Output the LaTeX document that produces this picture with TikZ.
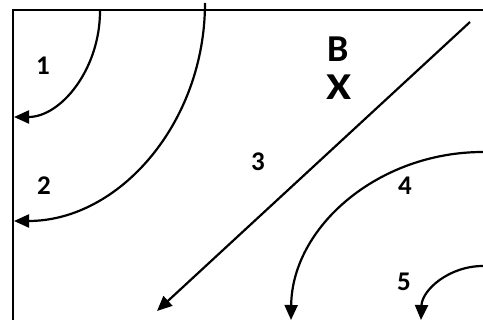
\documentclass[tikz,border=0pt]{standalone}
\usepackage{fontspec}
\setmainfont{Carlito}
\usetikzlibrary{arrows.meta, positioning}

\begin{document}
\begin{tikzpicture}[
    x=1pt, y=-1pt,
    frame/.style={draw=black, line width=1.6pt},
    route/.style={-{Triangle[length=15pt, width=13pt]}, line width=2.2pt},
    num/.style={font=\fontsize{27}{27}\selectfont\bfseries, inner sep=0pt},
    spot/.style={font=\fontsize{38}{38}\selectfont\bfseries, inner sep=0pt}
]
\useasboundingbox (0,0) rectangle (483,320);

% 1. Frame (top and left edges)
\coordinate (corner) at (13,10);
\coordinate (topend) at (483,10);
\coordinate (leftend) at (13,320);
\draw[frame] (topend) -- (corner) -- (leftend);

% 2. Labels
\node[num] (l1) at (43,66) {1};
\node[num] (l2) at (44,186) {2};
\node[num] (l3) at (258,162) {3};
\node[num] (l4) at (405,186) {4};
\node[num] (l5) at (404,282) {5};
\node[spot] (b) at (338,49) {B};
\node[spot, xscale=1.2] (x) at (339,87) {X};

% 3. Paths
\coordinate (s1) at (100,11);  \coordinate (e1) at (14,117);
\coordinate (s2) at (205,3);   \coordinate (e2) at (14,221);
\coordinate (s3) at (470,22);  \coordinate (e3) at (157,311);
\coordinate (s4) at (483,152); \coordinate (e4) at (291,320);
\coordinate (s5) at (483,266); \coordinate (e5) at (421,320);

\draw[route] (s1) .. controls (100,69) and (61,117) .. (e1);
\draw[route] (s2) .. controls (205,123) and (119,221) .. (e2);
\draw[route] (s3) -- (e3);
\draw[route] (s4) .. controls (378,152) and (292,227) .. (e4);
\draw[route] (s5) .. controls (449,266) and (422,290) .. (e5);

\end{tikzpicture}
\end{document}
